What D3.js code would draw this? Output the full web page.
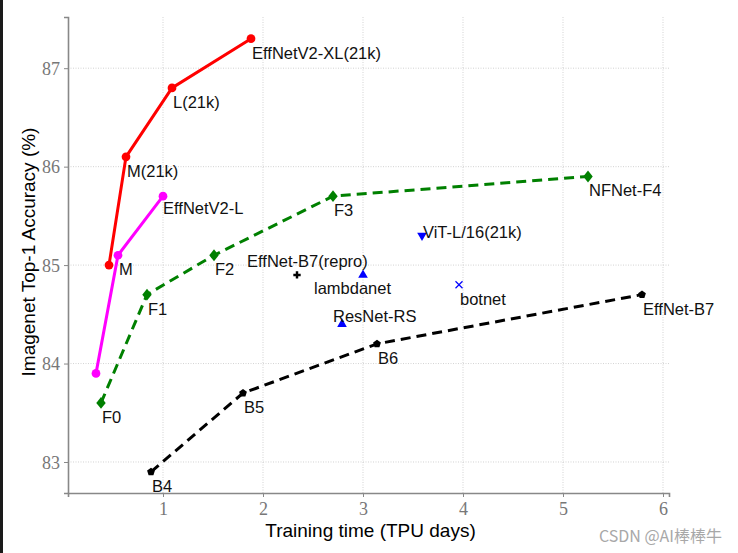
<!DOCTYPE html>
<html>
  <head>
    <meta charset="utf-8"/>
    <script type="text/javascript" src="https://cdnjs.cloudflare.com/ajax/libs/d3/7.8.5/d3.min.js"></script>
    <style type="text/css">

html, body {
  margin: 0;
  padding: 0;
  background: #fff;
}

svg {
  display: block;
  font-family: "Liberation Sans", Arial, sans-serif;
}

.grid line {
  stroke: #c8c8c8;
  stroke-width: 0.8px;
  stroke-dasharray: 1,1.5;
}

.tick text {
  font-family: "Liberation Serif", "DejaVu Serif", serif;
  font-size: 18px;
  fill: #777;
}

.label {
  font-size: 16.5px;
  fill: #111;
}

    </style>
  </head>
  <body>
    <div id="chart"></div>
    <script type="text/javascript">

// values (x = TPU days, y = top-1 %)
var effv2_21k_names = ["", "M(21k)", "L(21k)", "EffNetV2-XL(21k)"];
var effv2_21k_x = [0.46, 0.63, 1.09, 1.88];
var effv2_21k_y = [85.0, 86.1, 86.8, 87.3];

var effv2_names = ["", "M", "EffNetV2-L"];
var effv2_x = [0.33, 0.55, 1.00];
var effv2_y = [83.9, 85.1, 85.7];

var nfnet_names = ["F0", "F1", "F2", "F3", "NFNet-F4"];
var nfnet_x = [0.38, 0.84, 1.51, 2.70, 5.25];
var nfnet_y = [83.6, 84.7, 85.1, 85.7, 85.9];

var effnet_names = ["B4", "B5", "B6", "EffNet-B7"];
var effnet_x = [0.88, 1.80, 3.14, 5.79];
var effnet_y = [82.9, 83.7, 84.2, 84.7];

var single_names = ["EffNet-B7(repro)", "lambdanet", "ResNet-RS", "ViT-L/16(21k)", "botnet"];
var single_x = [2.34, 3.00, 2.79, 3.59, 3.96];
var single_y = [84.9, 84.9, 84.4, 85.3, 84.8];

var xTicks = [1, 2, 3, 4, 5, 6];
var yTicks = [83, 84, 85, 86, 87];

// label placement (pixels from the point), kept apart from the data
var offsetDefault = [1, 20];
var offsets = {
  "EffNet-B7(repro)": [-50, -8],
  "lambdanet": [-49, 19],
  "ResNet-RS": [-9, -2],
  "ViT-L/16(21k)": [1, 2],
  "EffNetV2-L": [0, 18]
};

var width = 738, height = 553;
var margin = {left: 68, top: 17, right: 69, bottom: 60};

var svg = d3.select("#chart").append("svg")
    .attr("width", width)
    .attr("height", height);

// dark strip on the left edge of the screenshot
svg.append("rect").attr("x", 0).attr("y", 0).attr("width", 3).attr("height", height).attr("fill", "#1a1a1a");

var x = d3.scaleLinear().domain([0.05, 6.06]).range([margin.left, width - margin.right]);
var y = d3.scaleLinear().domain([82.685, 87.52]).range([height - margin.bottom, margin.top]);

// grid
var grid = svg.append("g").attr("class", "grid");
grid.selectAll("line.v").data(xTicks).enter().append("line")
    .attr("x1", function(d) { return x(d); }).attr("x2", function(d) { return x(d); })
    .attr("y1", y.range()[0]).attr("y2", y.range()[1]);
grid.selectAll("line.h").data(yTicks).enter().append("line")
    .attr("y1", function(d) { return y(d); }).attr("y2", function(d) { return y(d); })
    .attr("x1", x.range()[0]).attr("x2", x.range()[1]);

// axes
var xAxis = svg.append("g")
    .attr("transform", "translate(0," + y.range()[0] + ")")
    .call(d3.axisBottom(x).tickValues(xTicks).tickSize(4).tickPadding(4).tickFormat(d3.format("d")));
var yAxis = svg.append("g")
    .attr("transform", "translate(" + x.range()[0] + ",0)")
    .call(d3.axisLeft(y).tickValues(yTicks).tickSize(4).tickPadding(4).tickFormat(d3.format("d")));
[xAxis, yAxis].forEach(function(a) {
  a.select(".domain").attr("stroke", "#888").attr("stroke-width", 1.6);
  a.selectAll(".tick line").attr("stroke", "#888").attr("stroke-width", 1);
});
xAxis.selectAll(".tick text").attr("dy", "0.8em");
yAxis.selectAll(".tick text").attr("dy", "0.35em");

svg.append("text")
    .attr("x", (x.range()[0] + x.range()[1]) / 2 + 2)
    .attr("y", 537)
    .attr("text-anchor", "middle")
    .attr("font-size", "19px")
    .attr("fill", "#000")
    .text("Training time (TPU days)");

svg.append("text")
    .attr("transform", "translate(35,252) rotate(-90)")
    .attr("text-anchor", "middle")
    .attr("font-size", "19px")
    .attr("fill", "#000")
    .text("Imagenet Top-1 Accuracy (%)");

function zip(names, xs, ys) {
  return names.map(function(n, i) { return {name: n, x: xs[i], y: ys[i]}; });
}

var line = d3.line().x(function(d) { return x(d.x); }).y(function(d) { return y(d.y); });

function series(data, color, dash, symbol, size) {
  svg.append("path")
      .datum(data)
      .attr("d", line)
      .attr("fill", "none")
      .attr("stroke", color)
      .attr("stroke-width", 3)
      .attr("stroke-dasharray", dash);
  svg.selectAll(null).data(data).enter().append("path")
      .attr("transform", function(d) { return "translate(" + x(d.x) + "," + y(d.y) + ")"; })
      .attr("d", d3.symbol().type(symbol).size(size))
      .attr("fill", color);
}

var diamond = {
  draw: function(ctx, s) {
    var r = Math.sqrt(s / 2);
    ctx.moveTo(0, -r); ctx.lineTo(r * 0.8, 0); ctx.lineTo(0, r); ctx.lineTo(-r * 0.8, 0); ctx.closePath();
  }
};
var pentagon = {
  draw: function(ctx, s) {
    var r = Math.sqrt(s / 2.4);
    for (var i = 0; i < 5; i++) {
      var a = -Math.PI / 2 + i * 2 * Math.PI / 5;
      if (i === 0) ctx.moveTo(r * Math.cos(a), r * Math.sin(a));
      else ctx.lineTo(r * Math.cos(a), r * Math.sin(a));
    }
    ctx.closePath();
  }
};
var triDown = {
  draw: function(ctx, s) {
    var r = Math.sqrt(s / 1.3);
    ctx.moveTo(-r * 0.87, -r * 0.5); ctx.lineTo(r * 0.87, -r * 0.5); ctx.lineTo(0, r); ctx.closePath();
  }
};
var triUp = {
  draw: function(ctx, s) {
    var r = Math.sqrt(s / 1.3);
    ctx.moveTo(-r * 0.87, r * 0.5); ctx.lineTo(r * 0.87, r * 0.5); ctx.lineTo(0, -r); ctx.closePath();
  }
};

var effv2_21k = zip(effv2_21k_names, effv2_21k_x, effv2_21k_y);
var effv2 = zip(effv2_names, effv2_x, effv2_y);
var nfnet = zip(nfnet_names, nfnet_x, nfnet_y);
var effnet = zip(effnet_names, effnet_x, effnet_y);
var singles = zip(single_names, single_x, single_y);

series(effv2_21k, "#ff0000", null, d3.symbolCircle, 60);
series(effv2, "#ff00ff", null, d3.symbolCircle, 60);
series(nfnet, "#008000", "10,6", diamond, 70);
series(effnet, "#000000", "10,6", pentagon, 40);

// single models
var singleSymbols = [d3.symbolCross, triUp, triUp, triDown, null];
var singleColors = ["#000", "#0000ff", "#0000ff", "#0000ff", "#0000ff"];
singles.forEach(function(d, i) {
  var g = svg.append("g").attr("transform", "translate(" + x(d.x) + "," + y(d.y) + ")");
  if (singleSymbols[i]) {
    g.append("path")
        .attr("d", d3.symbol().type(singleSymbols[i]).size(singleSymbols[i] === d3.symbolCross ? 30 : 40))
        .attr("fill", singleColors[i]);
  } else {
    g.append("path")
        .attr("d", "M-3.5,-3.5L3.5,3.5M-3.5,3.5L3.5,-3.5")
        .attr("stroke", singleColors[i])
        .attr("stroke-width", 1.2);
  }
});

// point labels
var labelled = [].concat(effv2_21k, effv2, nfnet, effnet, singles).filter(function(d) { return d.name; });
svg.selectAll("text.label").data(labelled).enter().append("text")
    .attr("class", "label")
    .attr("x", function(d) { return x(d.x) + (offsets[d.name] || offsetDefault)[0]; })
    .attr("y", function(d) { return y(d.y) + (offsets[d.name] || offsetDefault)[1]; })
    .text(function(d) { return d.name; });

// watermark
svg.append("text")
    .attr("x", 722)
    .attr("y", 542)
    .attr("text-anchor", "end")
    .attr("font-family", "'Noto Sans CJK SC', sans-serif")
    .attr("font-size", "16px")
    .attr("fill", "#a8a8a8")
    .text("CSDN @AI棒棒牛");

    </script>
  </body>
</html>
